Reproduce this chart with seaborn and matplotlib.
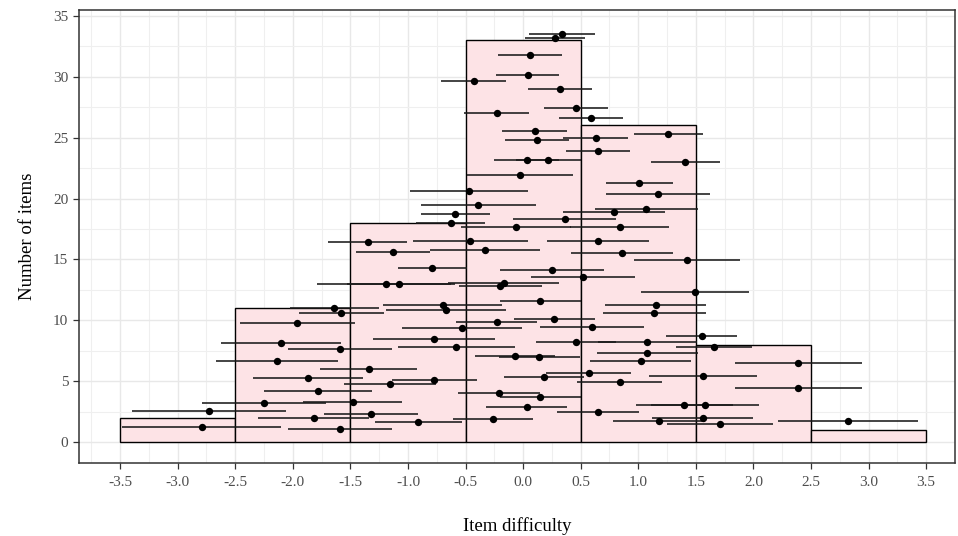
import numpy as np
import pandas as pd
import matplotlib
matplotlib.use("Agg")
import matplotlib.pyplot as plt
import seaborn as sns
from matplotlib.ticker import MultipleLocator

# item difficulty estimates (x), vertical placement (y) and error half-widths
difficulty = [
    -2.73, -2.79,
    -1.64, -1.58, -1.96, -2.10, -1.59, -2.14, -1.87, -1.78, -2.25, -1.82, -1.59,
    -1.48, -1.35, -1.13, -0.79, -1.19, -1.08, -0.70, -0.67, -0.53, -0.77, -0.58,
    -1.34, -0.77, -1.16, -1.32, -0.91, -0.59, -0.63,
    0.34, 0.28, 0.06, 0.04, -0.43, 0.32, 0.46, -0.23, 0.10, 0.12, 0.03, 0.22,
    -0.03, -0.47, -0.39, 0.36, -0.06, -0.46, -0.33, 0.25, -0.17, -0.20, 0.15,
    -0.23, 0.27, 0.46, -0.07, 0.14, 0.18, -0.21, 0.15, 0.03, -0.26,
    0.59, 0.63, 0.65, 0.79, 0.84, 1.26, 1.41, 1.01, 1.17, 1.07, 0.65, 0.86,
    0.52, 0.60, 0.57, 0.84, 0.65, 1.42, 1.49, 1.15, 1.14, 1.08, 1.08, 1.02,
    1.40, 1.18,
    1.55, 1.66, 2.39, 1.56, 2.39, 1.58, 1.56, 1.71,
    2.82,
]
y_pos = [
    2.55, 1.27,
    11.05, 10.6, 9.77, 8.16, 7.63, 6.65, 5.26, 4.17, 3.21, 2.03, 1.13,
    3.32, 16.4, 15.6, 14.3, 13.0, 13.0, 11.3, 10.86, 9.36, 8.48, 7.83,
    6.02, 5.15, 4.82, 2.34, 1.68, 18.75, 18.0,
    33.5, 33.2, 31.8, 30.1, 29.6, 29.0, 27.4, 27.0, 25.5, 24.8, 23.2, 23.2,
    21.9, 20.6, 19.5, 18.3, 17.7, 16.5, 15.8, 14.1, 13.1, 12.8, 11.6,
    9.9, 10.1, 8.26, 7.09, 6.98, 5.37, 4.08, 3.75, 2.88, 1.9,
    26.6, 25.0, 23.9, 18.9, 17.7, 25.3, 23.0, 21.3, 20.4, 19.1, 16.5, 15.5,
    13.6, 9.47, 5.7, 4.93, 2.45, 14.96, 12.36, 11.3, 10.64, 8.26, 7.31, 6.65,
    3.1, 1.79,
    8.7, 7.85, 6.54, 5.48, 4.49, 3.1, 2.0, 1.49,
    1.71,
]
half_width = [
    0.67, 0.69,
    0.385, 0.37, 0.50, 0.52, 0.45, 0.53, 0.48, 0.47, 0.535, 0.48, 0.45,
    0.43, 0.345, 0.32, 0.30, 0.60, 0.45, 0.52, 0.52, 0.52, 0.53, 0.51,
    0.42, 0.37, 0.40, 0.41, 0.38, 0.30, 0.30,
    0.285, 0.26, 0.28, 0.275, 0.28, 0.28, 0.28, 0.28, 0.28, 0.28, 0.28, 0.28,
    0.46, 0.51, 0.50, 0.45, 0.48, 0.50, 0.48, 0.45, 0.48, 0.36, 0.35,
    0.35, 0.35, 0.35, 0.35, 0.35, 0.35, 0.355, 0.35, 0.35, 0.35,
    0.28, 0.28, 0.28, 0.44, 0.43, 0.30, 0.30, 0.29, 0.45, 0.45, 0.44, 0.445,
    0.45, 0.45, 0.37, 0.37, 0.36, 0.46, 0.47, 0.44, 0.45, 0.43, 0.44, 0.44,
    0.42, 0.40,
    0.31, 0.33, 0.55, 0.47, 0.55, 0.47, 0.44, 0.46,
    0.61,
]
bin_edges = [-3.5, -2.5, -1.5, -0.5, 0.5, 1.5, 2.5, 3.5]
x_ticks = [-3.5, -3.0, -2.5, -2.0, -1.5, -1.0, -0.5, 0.0, 0.5, 1.0, 1.5, 2.0, 2.5, 3.0, 3.5]
y_ticks = [0, 5, 10, 15, 20, 25, 30, 35]

df = pd.DataFrame({"difficulty": difficulty, "y": y_pos, "hw": half_width})

sns.set_theme(style="whitegrid")
plt.rcParams["font.family"] = ["Liberation Serif", "DejaVu Serif"]

fig = plt.figure(figsize=(9.58, 5.36), dpi=100)
ax = fig.add_axes([0.0825, 0.137, 0.9145, 0.844])

sns.histplot(data=df, x="difficulty", bins=bin_edges, stat="count",
             color="#fde3e6", alpha=1.0, edgecolor="black", linewidth=1.0,
             ax=ax, zorder=2)

ax.hlines(df["y"], df["difficulty"] - df["hw"], df["difficulty"] + df["hw"],
          color="#1a1a1a", linewidth=1.15, zorder=3)
sns.scatterplot(data=df, x="difficulty", y="y", color="black", s=28,
                edgecolor="black", linewidth=0, ax=ax, zorder=4)

ax.set_xlim(-3.857, 3.752)
ax.set_ylim(-1.66, 35.45)
ax.set_xticks(x_ticks)
ax.set_xticklabels([f"{t:.1f}" for t in x_ticks])
ax.set_yticks(y_ticks)
ax.xaxis.set_minor_locator(MultipleLocator(0.25))
ax.yaxis.set_minor_locator(MultipleLocator(2.5))

ax.set_facecolor("white")
ax.grid(True, which="major", color="#e8e8e8", linewidth=1.0, zorder=0)
ax.grid(True, which="minor", color="#efefef", linewidth=0.8, zorder=0)
ax.set_axisbelow(True)
for sp in ax.spines.values():
    sp.set_visible(True)
    sp.set_color("#333333")
    sp.set_linewidth(1.1)

ax.tick_params(axis="both", which="major", length=4.2, width=0.9, color="#333333",
               labelcolor="#4d4d4d", labelsize=11, pad=3.5, bottom=True, left=True)
ax.tick_params(axis="x", which="major", pad=5.5)
ax.tick_params(axis="both", which="minor", length=0)

ax.set_xlabel("Item difficulty", fontsize=13.5, color="black", labelpad=20)
ax.set_ylabel("Number of items", fontsize=13.5, color="black", labelpad=12)

fig.savefig("out.png", dpi=100)
